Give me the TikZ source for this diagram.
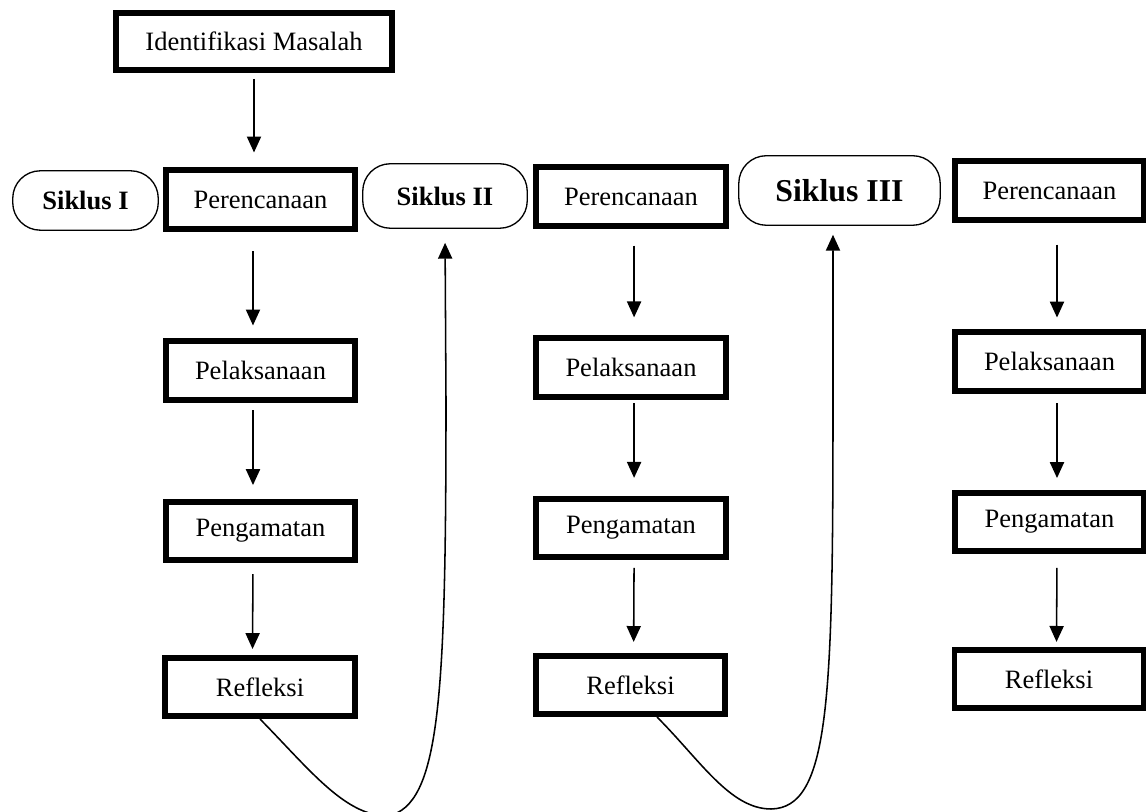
\documentclass[tikz,border=0pt]{standalone}
\usepackage{fontspec}
\setmainfont{Liberation Serif}
\usepackage{tikz}
\usetikzlibrary{arrows.meta}

\begin{document}
\begin{tikzpicture}[x=0.4528pt, y=-0.4528pt,
  >={Triangle[width=6.4pt,length=7.2pt]},
  box/.style={draw, line width=2.7pt, minimum width=85.6pt, minimum height=26.3pt, inner sep=0pt, font=\fontsize{12}{14}\selectfont},
  siklus/.style={draw, line width=0.6pt, rounded corners=12.5pt, inner sep=0pt, font=\fontsize{12}{14}\selectfont\bfseries},
  flow/.style 2 args={->, line width=0.7pt, shorten <=#1, shorten >=#2},
  loop/.style={->, line width=0.7pt}]
  \useasboundingbox (0,0) rectangle (1146,812);

  \node[box, minimum width=125pt, minimum height=25.8pt] (idm) at (254,41.5) {Identifikasi Masalah};

  \node[siklus, minimum width=65.9pt, minimum height=26.9pt] (k1) at (85.5,200.5) {Siklus I};
  \node[siklus, minimum width=74.5pt, minimum height=29.2pt] (k2) at (445,196) {Siklus II};
  \node[siklus, minimum width=91.2pt, minimum height=31.5pt, font=\fontsize{14.4}{17}\selectfont\bfseries] (k3) at (839.5,190.5) {Siklus III};

  % siklus I
  \node[box] (p1) at (260.5,199.5) {Perencanaan};
  \node[box] (q1) at (260.5,370.5) {Pelaksanaan};
  \node[box] (r1) at (260.5,531) {Pengamatan};
  \node[box] (s1) at (260,687) {Refleksi};
  % siklus II
  \node[box] (p2) at (631,196.5) {Perencanaan};
  \node[box] (q2) at (631,367.5) {Pelaksanaan};
  \node[box] (r2) at (631,528) {Pengamatan};
  \node[box] (s2) at (630.5,685) {Refleksi};
  % siklus III
  \node[box] (p3) at (1049.5,190.5) {Perencanaan};
  \node[box] (q3) at (1049.5,361.5) {Pelaksanaan};
  \node[box] (r3) at (1049.5,522) {Pengamatan};
  \node[box] (s3) at (1049,679) {Refleksi};

  \draw[flow={2.7pt}{6.8pt}] (idm.south) -- (idm.south |- p1.north);

  \draw[flow={9pt}{5.9pt}] ([xshift=-3.4pt]p1.south) -- ([xshift=-3.4pt]q1.north);
  \draw[flow={3.6pt}{6.3pt}] ([xshift=-3.4pt]q1.south) -- ([xshift=-3.4pt]r1.north);
  \draw[flow={5pt}{2.7pt}] ([xshift=-3.4pt]r1.south) -- ([xshift=-3.4pt]s1.north);

  \draw[flow={7.7pt}{8.2pt}] ([xshift=1.4pt]p2.south) -- ([xshift=1.4pt]q2.north);
  \draw[flow={1.8pt}{8.2pt}] ([xshift=1.4pt]q2.south) -- ([xshift=1.4pt]r2.north);
  \draw[flow={3.6pt}{5pt}] ([xshift=1.4pt]r2.south) -- ([xshift=1.4pt]s2.north);

  \draw[flow={10pt}{5.4pt}] ([xshift=3.4pt]p3.south) -- ([xshift=3.4pt]q3.north);
  \draw[flow={4.5pt}{5.4pt}] ([xshift=3.4pt]q3.south) -- ([xshift=3.4pt]r3.north);
  \draw[flow={6.3pt}{2.3pt}] ([xshift=3.4pt]r3.south) -- ([xshift=3.4pt]s3.north);

  % kembali ke siklus berikutnya
  \coordinate (up2) at (446,400);
  \coordinate (up3) at (833,400);
  \draw[loop, shorten >=6.3pt] (s1.south) .. controls (310,770) and (345,816) .. (388,816)
    .. controls (440,805) and (446,700) .. (up2) -- (k2.south);
  \draw[loop, shorten >=4pt] ([xshift=12pt]s2.south) .. controls (700,760) and (730,809) .. (771,809)
    .. controls (830,808) and (833,700) .. (up3) -- (k3.south -| up3);
\end{tikzpicture}
\end{document}
